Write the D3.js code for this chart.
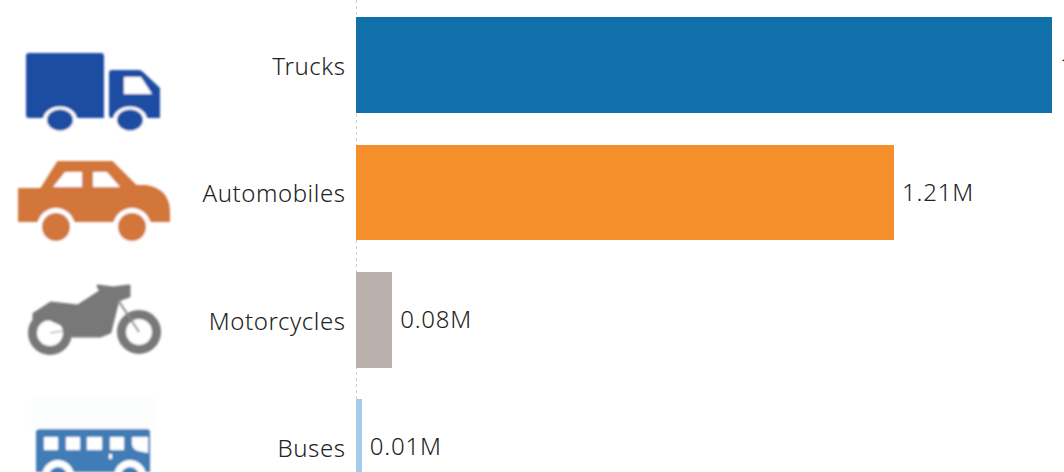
<!DOCTYPE html>
<html>
<head>
<meta charset="utf-8">
<script src="https://cdn.jsdelivr.net/npm/d3@7"></script>
<style>
html,body{margin:0;padding:0;background:#fff;overflow:hidden}
svg{display:block}
text{font-family:"Noto Sans",sans-serif;font-size:24px;font-weight:300;letter-spacing:0.55px;fill:#222}
text.val{letter-spacing:0.8px}
</style>
</head>
<body>
<svg id="chart" width="1064" height="472"></svg>
<script>
const categories = ["Trucks","Automobiles","Motorcycles","Buses"];
const values = [1.56,1.206,0.081,0.013];
const barColors = ["#1170aa","#f48f2c","#bab0ac","#a3cce9"];

const svg = d3.select("#chart");
const x = d3.scaleLinear().domain([0,1.56]).range([356,1052]);
const y = d3.scaleBand().domain(categories).range([17.3,494.9]).paddingInner(0.2453).paddingOuter(0);
const fmt = v => v.toFixed(2)+"M";

svg.append("line").attr("x1",356.5).attr("x2",356.5).attr("y1",0).attr("y2",472)
  .attr("stroke","#cfcfcf").attr("stroke-width",1).attr("stroke-dasharray","3 3");

svg.selectAll("rect.bar").data(categories).join("rect").attr("class","bar")
  .attr("x",x(0)).attr("y",d=>y(d))
  .attr("width",(d,i)=>x(values[i])-x(0)).attr("height",y.bandwidth())
  .attr("shape-rendering","crispEdges")
  .attr("fill",(d,i)=>barColors[i]);

svg.selectAll("text.cat").data(categories).join("text").attr("class","cat")
  .attr("x",345.5).attr("y",d=>y(d)+y.bandwidth()/2+1.5).attr("dy","0.35em")
  .attr("text-anchor","end").text(d=>d);

svg.selectAll("text.val").data(categories).join("text").attr("class","val")
  .attr("x",(d,i)=>x(values[i])+8).attr("y",d=>y(d)+y.bandwidth()/2).attr("dy","0.35em")
  .text((d,i)=>fmt(values[i]));

// icons
const defs = svg.append("defs");
defs.append("filter").attr("id","soft").append("feGaussianBlur").attr("stdDeviation",0.8);
const icons = svg.append("g").attr("filter","url(#soft)");

// truck
const truck = icons.append("g");
truck.append("path").attr("fill","#1f4ea3")
  .attr("d","M29 53H101Q104 53 104 56V118H29Q26 118 26 115V56Q26 53 29 53Z M112 70H139Q141 70 143 72L160 88V118H112Q109 118 109 115V73Q109 70 112 70Z");
truck.append("path").attr("fill","#fff").attr("d","M124 77H141L152 94H124Z");
[60,130].forEach(cx=>{
  truck.append("ellipse").attr("cx",cx).attr("cy",120).attr("rx",17).attr("ry",13.5).attr("fill","#fff");
  truck.append("ellipse").attr("cx",cx).attr("cy",120).attr("rx",13).attr("ry",10.5).attr("fill","#1f4ea3");
});

// car
const car = icons.append("g");
car.append("path").attr("fill","#d2763a").attr("stroke","#d2763a").attr("stroke-width",2).attr("stroke-linejoin","round")
  .attr("d","M58 162H112L136 186H146Q169 190 169 212V221H19V189H41Z");
car.append("path").attr("fill","#fff").attr("d","M53 187L65 172H82V187Z M93 172H107L120 187H93Z");
[56,132].forEach(cx=>{
  car.append("circle").attr("cx",cx).attr("cy",227).attr("r",19).attr("fill","#fff");
  car.append("circle").attr("cx",cx).attr("cy",227).attr("r",14).attr("fill","#d2763a");
});

// motorcycle
const moto = icons.append("g");
[[50,333,17.5],[139,332,17.5]].forEach(([cx,cy,r])=>{
  moto.append("circle").attr("cx",cx).attr("cy",cy).attr("r",r).attr("fill","#fff").attr("stroke","#787878").attr("stroke-width",9);
});
moto.append("path").attr("fill","#787878").attr("stroke","#787878").attr("stroke-width",3).attr("stroke-linejoin","round")
  .attr("d","M34 314L51 303L78 306L95 295L101 291L98 286L113 288L129 286L129 296L118 300L110 332L100 336L73 336L65 326L50 319L34 319Z");
moto.append("line").attr("x1",118).attr("y1",300).attr("x2",139).attr("y2",332).attr("stroke","#8a8a8a").attr("stroke-width",2);
moto.append("line").attr("x1",50).attr("y1",333).attr("x2",63).attr("y2",331).attr("stroke","#bbb").attr("stroke-width",1.5);

// bus
const bus = icons.append("g");
bus.append("rect").attr("x",31).attr("y",396).attr("width",125).attr("height",33).attr("fill","#fcfdfd");
bus.append("path").attr("fill","#3f7cb5")
  .attr("d","M40 429H147Q150 429 150 432V472H36V432Q36 429 40 429Z");
bus.append("path").attr("fill","#fff")
  .attr("d","M44 437H58V450H44Z M66 437H80V450H66Z M87 437H102V450H87Z M110 437H124V450H110Z M132 437H148V453L138 451Q132 449 132 444Z M109 454H112V459H109Z");
[58,130].forEach(cx=>{
  bus.append("circle").attr("cx",cx).attr("cy",476).attr("r",16).attr("fill","#fff");
  bus.append("circle").attr("cx",cx).attr("cy",476).attr("r",9).attr("fill","#3f7cb5");
});
</script>
</body>
</html>
